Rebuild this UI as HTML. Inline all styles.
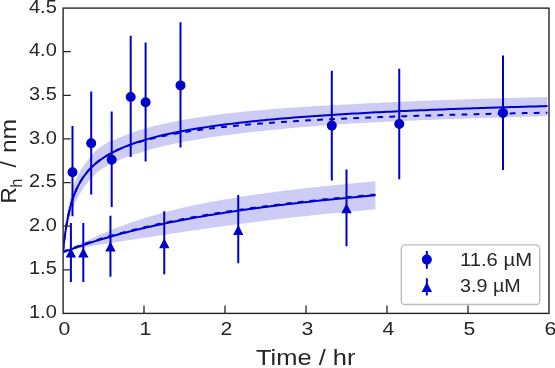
<!DOCTYPE html>
<html><head><meta charset="utf-8"><style>
html,body{margin:0;padding:0;background:#fff;}
body{width:555px;height:368px;overflow:hidden;}
svg{display:block;}
text{font-family:"Liberation Sans",sans-serif;fill:#262626;}
svg{will-change:transform;}
</style></head><body>
<svg width="555" height="368" viewBox="0 0 555 368">
<rect width="555" height="368" fill="#fff"/>
<defs><clipPath id="ax"><rect x="63" y="8" width="486" height="305"/></clipPath></defs>
<g clip-path="url(#ax)">
<path d="M63.00,252.00 L63.24,249.19 L63.48,246.48 L63.72,243.87 L63.97,241.35 L64.21,238.91 L64.45,236.55 L64.69,234.27 L64.93,232.05 L65.17,229.90 L65.41,227.81 L65.66,225.79 L65.90,223.81 L66.14,221.99 L66.38,220.28 L66.62,218.62 L66.86,217.00 L67.10,215.43 L67.34,213.90 L67.59,212.40 L67.83,210.95 L68.07,209.52 L68.31,208.14 L68.55,206.78 L68.79,205.45 L69.03,204.16 L69.28,202.89 L69.52,201.65 L69.76,200.44 L70.00,199.24 L70.76,196.16 L71.52,193.27 L72.28,190.58 L73.04,188.04 L73.80,185.65 L74.56,183.40 L75.32,181.26 L76.08,179.25 L76.84,177.57 L77.59,175.98 L78.35,174.47 L79.11,173.03 L79.87,171.66 L80.63,170.36 L81.39,169.11 L82.15,167.91 L82.91,166.77 L83.67,165.67 L84.43,164.61 L85.19,163.60 L85.95,162.62 L86.71,161.54 L87.47,160.48 L88.23,159.45 L88.99,158.44 L89.75,157.47 L90.51,156.52 L91.27,155.61 L92.03,154.73 L92.78,153.88 L93.54,153.05 L94.30,152.24 L95.06,151.44 L95.82,150.67 L96.58,149.91 L97.34,149.24 L98.10,148.67 L98.86,148.12 L99.62,147.58 L100.38,147.06 L101.14,146.55 L101.90,146.05 L102.66,145.56 L103.42,145.09 L104.18,144.62 L104.94,144.17 L105.70,143.72 L106.46,143.29 L107.22,142.87 L107.97,142.45 L108.73,142.10 L109.49,141.76 L110.25,141.43 L111.01,141.11 L111.77,140.80 L112.53,140.49 L113.29,140.19 L114.05,139.89 L114.81,139.61 L115.57,139.33 L116.33,139.02 L117.09,138.67 L117.85,138.34 L118.61,138.00 L119.37,137.68 L120.13,137.35 L120.89,137.04 L121.65,136.73 L122.41,136.42 L123.16,136.12 L123.92,135.82 L124.68,135.51 L125.44,135.20 L126.20,134.90 L126.96,134.60 L127.72,134.31 L128.48,134.02 L129.24,133.73 L130.00,133.45 L133.00,132.36 L136.00,131.33 L139.01,130.35 L142.01,129.42 L145.01,128.54 L148.01,127.70 L151.02,126.89 L154.02,126.12 L157.02,125.37 L160.02,124.66 L163.02,123.97 L166.03,123.30 L169.03,122.66 L172.03,122.04 L175.03,121.44 L178.03,120.87 L181.04,120.30 L184.04,119.76 L187.04,119.24 L190.04,118.73 L193.05,118.23 L196.05,117.75 L199.05,117.29 L202.05,116.83 L205.05,116.39 L208.06,115.96 L211.06,115.55 L214.06,115.14 L217.06,114.74 L220.06,114.36 L223.07,113.98 L226.07,113.62 L229.07,113.26 L232.07,112.91 L235.08,112.57 L238.08,112.24 L241.08,111.92 L244.08,111.62 L247.08,111.32 L250.09,111.03 L253.09,110.75 L256.09,110.48 L259.09,110.21 L262.09,109.95 L265.10,109.69 L268.10,109.44 L271.10,109.19 L274.10,108.95 L277.11,108.72 L280.11,108.49 L283.11,108.27 L286.11,108.05 L289.11,107.83 L292.12,107.62 L295.12,107.41 L298.12,107.21 L301.12,107.01 L304.13,106.82 L307.13,106.63 L310.13,106.44 L313.13,106.26 L316.13,106.08 L319.14,105.91 L322.14,105.74 L325.14,105.57 L328.14,105.40 L331.14,105.24 L334.15,105.08 L337.15,104.92 L340.15,104.77 L343.15,104.62 L346.16,104.47 L349.16,104.33 L352.16,104.17 L355.16,104.00 L358.16,103.84 L361.17,103.68 L364.17,103.52 L367.17,103.36 L370.17,103.21 L373.17,103.06 L376.18,102.91 L379.18,102.76 L382.18,102.62 L385.18,102.48 L388.19,102.33 L391.19,102.20 L394.19,102.06 L397.19,101.92 L400.19,101.79 L403.20,101.66 L406.20,101.53 L409.20,101.40 L412.20,101.28 L415.21,101.15 L418.21,101.03 L421.21,100.91 L424.21,100.79 L427.21,100.67 L430.22,100.56 L433.22,100.44 L436.22,100.33 L439.22,100.22 L442.22,100.11 L445.23,100.00 L448.23,99.89 L451.23,99.79 L454.23,99.68 L457.24,99.58 L460.24,99.48 L463.24,99.38 L466.24,99.28 L469.24,99.18 L472.25,99.08 L475.25,98.99 L478.25,98.89 L481.25,98.80 L484.25,98.70 L487.26,98.61 L490.26,98.52 L493.26,98.43 L496.26,98.34 L499.27,98.26 L502.27,98.17 L505.27,98.09 L508.27,98.00 L511.27,97.92 L514.28,97.84 L517.28,97.75 L520.28,97.67 L523.28,97.59 L526.28,97.52 L529.29,97.44 L532.29,97.36 L535.29,97.28 L538.29,97.21 L541.30,97.13 L544.30,97.06 L547.30,96.99 L547.30,116.19 L544.30,116.26 L541.30,116.34 L538.29,116.42 L535.29,116.50 L532.29,116.58 L529.29,116.66 L526.28,116.74 L523.28,116.82 L520.28,116.90 L517.28,116.99 L514.28,117.07 L511.27,117.16 L508.27,117.24 L505.27,117.33 L502.27,117.42 L499.27,117.51 L496.26,117.60 L493.26,117.69 L490.26,117.78 L487.26,117.87 L484.25,117.97 L481.25,118.06 L478.25,118.16 L475.25,118.26 L472.25,118.36 L469.24,118.46 L466.24,118.56 L463.24,118.66 L460.24,118.77 L457.24,118.87 L454.23,118.98 L451.23,119.08 L448.23,119.19 L445.23,119.30 L442.22,119.42 L439.22,119.53 L436.22,119.64 L433.22,119.76 L430.22,119.88 L427.21,120.00 L424.21,120.12 L421.21,120.24 L418.21,120.36 L415.21,120.49 L412.20,120.62 L409.20,120.74 L406.20,120.87 L403.20,121.01 L400.19,121.14 L397.19,121.28 L394.19,121.41 L391.19,121.55 L388.19,121.70 L385.18,121.84 L382.18,121.99 L379.18,122.13 L376.18,122.28 L373.17,122.44 L370.17,122.59 L367.17,122.75 L364.17,122.91 L361.17,123.07 L358.16,123.23 L355.16,123.40 L352.16,123.57 L349.16,123.75 L346.16,123.94 L343.15,124.15 L340.15,124.35 L337.15,124.56 L334.15,124.77 L331.14,124.98 L328.14,125.20 L325.14,125.42 L322.14,125.64 L319.14,125.87 L316.13,126.10 L313.13,126.33 L310.13,126.57 L307.13,126.81 L304.13,127.05 L301.12,127.30 L298.12,127.55 L295.12,127.81 L292.12,128.07 L289.11,128.34 L286.11,128.61 L283.11,128.88 L280.11,129.16 L277.11,129.44 L274.10,129.73 L271.10,130.03 L268.10,130.33 L265.10,130.63 L262.09,130.94 L259.09,131.26 L256.09,131.58 L253.09,131.91 L250.09,132.25 L247.08,132.59 L244.08,132.94 L241.08,133.30 L238.08,133.66 L235.08,134.03 L232.07,134.40 L229.07,134.79 L226.07,135.18 L223.07,135.59 L220.06,136.00 L217.06,136.42 L214.06,136.85 L211.06,137.29 L208.06,137.75 L205.05,138.21 L202.05,138.69 L199.05,139.18 L196.05,139.68 L193.05,140.20 L190.04,140.73 L187.04,141.27 L184.04,141.83 L181.04,142.41 L178.03,143.01 L175.03,143.62 L172.03,144.26 L169.03,144.91 L166.03,145.59 L163.02,146.29 L160.02,147.02 L157.02,147.77 L154.02,148.55 L151.02,149.36 L148.01,150.20 L145.01,151.08 L142.01,152.00 L139.01,152.93 L136.00,153.86 L133.00,154.83 L130.00,155.86 L129.24,156.13 L128.48,156.40 L127.72,156.68 L126.96,156.96 L126.20,157.24 L125.44,157.53 L124.68,157.82 L123.92,158.12 L123.16,158.44 L122.41,158.76 L121.65,159.08 L120.89,159.42 L120.13,159.75 L119.37,160.09 L118.61,160.44 L117.85,160.79 L117.09,161.15 L116.33,161.51 L115.57,161.85 L114.81,162.18 L114.05,162.52 L113.29,162.86 L112.53,163.20 L111.77,163.56 L111.01,163.92 L110.25,164.29 L109.49,164.67 L108.73,165.06 L107.97,165.45 L107.22,165.87 L106.46,166.29 L105.70,166.72 L104.94,167.17 L104.18,167.62 L103.42,168.09 L102.66,168.56 L101.90,169.05 L101.14,169.55 L100.38,170.06 L99.62,170.58 L98.86,171.12 L98.10,171.67 L97.34,172.24 L96.58,172.91 L95.82,173.67 L95.06,174.44 L94.30,175.24 L93.54,176.05 L92.78,176.88 L92.03,177.73 L91.27,178.61 L90.51,179.42 L89.75,180.22 L88.99,181.04 L88.23,181.89 L87.47,182.77 L86.71,183.68 L85.95,184.62 L85.19,185.60 L84.43,186.61 L83.67,187.67 L82.91,188.77 L82.15,189.91 L81.39,191.11 L80.63,192.36 L79.87,193.66 L79.11,195.03 L78.35,196.47 L77.59,197.98 L76.84,199.57 L76.08,201.25 L75.32,202.80 L74.56,204.44 L73.80,206.19 L73.04,208.07 L72.28,210.10 L71.52,212.29 L70.76,214.66 L70.00,217.24 L69.76,217.95 L69.52,218.68 L69.28,219.44 L69.03,220.23 L68.79,221.04 L68.55,221.88 L68.31,222.76 L68.07,223.66 L67.83,224.60 L67.59,225.57 L67.34,226.59 L67.10,227.64 L66.86,228.73 L66.62,229.86 L66.38,231.04 L66.14,232.26 L65.90,233.47 L65.66,234.64 L65.41,235.86 L65.17,237.14 L64.93,238.49 L64.69,239.90 L64.45,241.38 L64.21,242.93 L63.97,244.57 L63.72,246.28 L63.48,248.09 L63.24,249.99 L63.00,252.00 Z" fill="#0000cd" fill-opacity="0.2" stroke="none"/>
<path d="M63.00,252.38 L65.63,251.18 L68.25,249.91 L70.88,248.62 L73.50,247.32 L76.13,246.02 L78.75,244.72 L81.38,243.44 L84.00,242.17 L86.63,240.91 L89.25,239.67 L91.88,238.44 L94.50,237.23 L97.13,236.04 L99.75,234.87 L102.38,233.73 L105.00,232.60 L107.63,231.49 L110.25,230.40 L112.88,229.34 L115.50,228.29 L118.13,227.27 L120.75,226.26 L123.38,225.28 L126.01,224.32 L128.63,223.37 L131.26,222.45 L133.88,221.54 L136.51,220.66 L139.13,219.79 L141.76,218.95 L144.38,218.12 L147.01,217.30 L149.63,216.51 L152.26,215.73 L154.88,214.97 L157.51,214.22 L160.13,213.49 L162.76,212.78 L165.38,212.08 L168.01,211.40 L170.63,210.72 L173.26,210.07 L175.88,209.42 L178.51,208.79 L181.13,208.17 L183.76,207.57 L186.38,206.97 L189.01,206.39 L191.64,205.82 L194.26,205.26 L196.89,204.71 L199.51,204.17 L202.14,203.64 L204.76,203.12 L207.39,202.61 L210.01,202.10 L212.64,201.61 L215.26,201.13 L217.89,200.65 L220.51,200.18 L223.14,199.72 L225.76,199.27 L228.39,198.82 L231.01,198.39 L233.64,197.95 L236.26,197.53 L238.89,197.11 L241.51,196.70 L244.14,196.30 L246.76,195.90 L249.39,195.50 L252.02,195.11 L254.64,194.73 L257.27,194.36 L259.89,193.98 L262.52,193.62 L265.14,193.26 L267.77,192.90 L270.39,192.55 L273.02,192.20 L275.64,191.86 L278.27,191.52 L280.89,191.18 L283.52,190.85 L286.14,190.53 L288.77,190.21 L291.39,189.89 L294.02,189.57 L296.64,189.26 L299.27,188.96 L301.89,188.65 L304.52,188.35 L307.14,188.06 L309.77,187.76 L312.39,187.47 L315.02,187.19 L317.65,186.90 L320.27,186.62 L322.90,186.35 L325.52,186.07 L328.15,185.80 L330.77,185.53 L333.40,185.26 L336.02,185.00 L338.65,184.74 L341.27,184.48 L343.90,184.23 L346.52,183.97 L349.15,183.72 L351.77,183.47 L354.40,183.23 L357.02,182.99 L359.65,182.74 L362.27,182.51 L364.90,182.27 L367.52,182.04 L370.15,181.80 L372.77,181.57 L375.40,181.35 L375.40,209.32 L372.77,209.55 L370.15,209.77 L367.52,210.00 L364.90,210.23 L362.27,210.47 L359.65,210.70 L357.02,210.94 L354.40,211.18 L351.77,211.42 L349.15,211.67 L346.52,211.91 L343.90,212.16 L341.27,212.41 L338.65,212.67 L336.02,212.92 L333.40,213.18 L330.77,213.44 L328.15,213.70 L325.52,213.96 L322.90,214.23 L320.27,214.50 L317.65,214.77 L315.02,215.05 L312.39,215.32 L309.77,215.60 L307.14,215.88 L304.52,216.17 L301.89,216.45 L299.27,216.74 L296.64,217.03 L294.02,217.33 L291.39,217.62 L288.77,217.92 L286.14,218.22 L283.52,218.53 L280.89,218.83 L278.27,219.14 L275.64,219.45 L273.02,219.77 L270.39,220.09 L267.77,220.40 L265.14,220.73 L262.52,221.05 L259.89,221.38 L257.27,221.71 L254.64,222.04 L252.02,222.38 L249.39,222.72 L246.76,223.06 L244.14,223.40 L241.51,223.74 L238.89,224.09 L236.26,224.44 L233.64,224.80 L231.01,225.15 L228.39,225.51 L225.76,225.87 L223.14,226.23 L220.51,226.60 L217.89,226.96 L215.26,227.33 L212.64,227.70 L210.01,228.07 L207.39,228.45 L204.76,228.83 L202.14,229.20 L199.51,229.58 L196.89,229.97 L194.26,230.35 L191.64,230.73 L189.01,231.12 L186.38,231.51 L183.76,231.90 L181.13,232.29 L178.51,232.68 L175.88,233.07 L173.26,233.46 L170.63,233.86 L168.01,234.25 L165.38,234.65 L162.76,235.04 L160.13,235.44 L157.51,235.83 L154.88,236.23 L152.26,236.63 L149.63,237.02 L147.01,237.42 L144.38,237.82 L141.76,238.22 L139.13,238.61 L136.51,239.01 L133.88,239.41 L131.26,239.81 L128.63,240.21 L126.01,240.61 L123.38,241.01 L120.75,241.41 L118.13,241.81 L115.50,242.22 L112.88,242.63 L110.25,243.03 L107.63,243.45 L105.00,243.86 L102.38,244.28 L99.75,244.71 L97.13,245.14 L94.50,245.58 L91.88,246.03 L89.25,246.49 L86.63,246.96 L84.00,247.45 L81.38,247.95 L78.75,248.48 L76.13,249.02 L73.50,249.60 L70.88,250.20 L68.25,250.86 L65.63,251.57 L63.00,252.38 Z" fill="#0000cd" fill-opacity="0.2" stroke="none"/>
<path d="M63.00,252.00 L63.16,250.37 L63.32,248.79 L63.49,247.26 L63.65,245.76 L63.81,244.31 L63.97,242.90 L64.13,241.53 L64.30,240.19 L64.46,238.89 L64.62,237.62 L64.78,236.38 L64.94,235.17 L65.11,234.00 L65.27,232.85 L65.43,231.73 L65.59,230.63 L65.75,229.56 L65.92,228.52 L66.08,227.50 L66.24,226.50 L66.40,225.52 L66.56,224.57 L66.73,223.63 L66.89,222.72 L67.05,221.82 L67.67,218.57 L68.29,215.56 L68.90,212.76 L69.52,210.15 L70.14,207.71 L70.76,205.42 L71.37,203.27 L71.99,201.24 L72.61,199.32 L73.23,197.51 L73.85,195.79 L74.46,194.16 L75.08,192.60 L75.70,191.12 L76.32,189.71 L76.93,188.36 L77.55,187.07 L78.17,185.83 L78.79,184.64 L79.41,183.50 L80.02,182.40 L80.64,181.34 L81.26,180.32 L81.88,179.34 L82.49,178.39 L83.11,177.47 L83.73,176.59 L84.35,175.73 L84.97,174.89 L85.58,174.09 L86.20,173.30 L86.82,172.54 L87.44,171.81 L88.06,171.09 L88.67,170.39 L89.29,169.71 L89.91,169.05 L90.53,168.40 L91.14,167.77 L91.76,167.16 L92.38,166.56 L93.00,165.98 L93.62,165.41 L94.23,164.85 L94.85,164.30 L95.47,163.77 L96.09,163.25 L96.70,162.74 L97.32,162.24 L97.94,161.75 L98.56,161.27 L99.18,160.80 L99.79,160.33 L100.41,159.88 L101.03,159.44 L101.65,159.00 L102.26,158.57 L102.88,158.15 L103.50,157.74 L107.23,155.39 L110.96,153.26 L114.69,151.31 L118.42,149.52 L122.16,147.87 L125.89,146.33 L129.62,144.89 L133.35,143.54 L137.08,142.27 L140.81,141.08 L144.54,139.95 L148.27,138.88 L152.00,137.86 L155.74,136.89 L159.47,135.97 L163.20,135.09 L166.93,134.25 L170.66,133.44 L174.39,132.66 L178.12,131.92 L181.85,131.20 L185.58,130.52 L189.32,129.85 L193.05,129.21 L196.78,128.60 L200.51,128.00 L204.24,127.42 L207.97,126.87 L211.70,126.33 L215.43,125.80 L219.16,125.30 L222.89,124.81 L226.63,124.33 L230.36,123.87 L234.09,123.42 L237.82,122.98 L241.55,122.55 L245.28,122.14 L249.01,121.74 L252.74,121.34 L256.47,120.96 L260.21,120.59 L263.94,120.23 L267.67,119.87 L271.40,119.53 L275.13,119.19 L278.86,118.86 L282.59,118.54 L286.32,118.23 L290.05,117.92 L293.79,117.62 L297.52,117.32 L301.25,117.04 L304.98,116.76 L308.71,116.48 L312.44,116.21 L316.17,115.95 L319.90,115.69 L323.63,115.44 L327.37,115.19 L331.10,114.95 L334.83,114.71 L338.56,114.48 L342.29,114.25 L346.02,114.02 L349.75,113.80 L353.48,113.59 L357.21,113.38 L360.95,113.17 L364.68,112.96 L368.41,112.76 L372.14,112.57 L375.87,112.37 L379.60,112.18 L383.33,112.00 L387.06,111.81 L390.79,111.63 L394.53,111.45 L398.26,111.28 L401.99,111.11 L405.72,110.94 L409.45,110.77 L413.18,110.61 L416.91,110.45 L420.64,110.29 L424.37,110.13 L428.11,109.98 L431.84,109.83 L435.57,109.68 L439.30,109.54 L443.03,109.39 L446.76,109.25 L450.49,109.11 L454.22,108.97 L457.95,108.84 L461.68,108.70 L465.42,108.57 L469.15,108.44 L472.88,108.31 L476.61,108.19 L480.34,108.06 L484.07,107.94 L487.80,107.82 L491.53,107.70 L495.26,107.58 L499.00,107.46 L502.73,107.35 L506.46,107.24 L510.19,107.12 L513.92,107.01 L517.65,106.91 L521.38,106.80 L525.11,106.69 L528.84,106.59 L532.58,106.48 L536.31,106.38 L540.04,106.28 L543.77,106.18 L547.50,106.08" fill="none" stroke="#0000cd" stroke-width="2"/>
<path d="M63.00,252.00 L63.16,250.38 L63.32,248.80 L63.49,247.27 L63.65,245.79 L63.81,244.34 L63.97,242.93 L64.13,241.57 L64.30,240.23 L64.46,238.93 L64.62,237.67 L64.78,236.43 L64.94,235.23 L65.11,234.05 L65.27,232.91 L65.43,231.79 L65.59,230.70 L65.75,229.63 L65.92,228.59 L66.08,227.57 L66.24,226.57 L66.40,225.60 L66.56,224.64 L66.73,223.71 L66.89,222.79 L67.05,221.90 L67.67,218.65 L68.29,215.64 L68.90,212.83 L69.52,210.22 L70.14,207.77 L70.76,205.48 L71.37,203.32 L71.99,201.28 L72.61,199.36 L73.23,197.54 L73.85,195.81 L74.46,194.17 L75.08,192.60 L75.70,191.12 L76.32,189.69 L76.93,188.33 L77.55,187.03 L78.17,185.79 L78.79,184.59 L79.41,183.44 L80.02,182.33 L80.64,181.27 L81.26,180.24 L81.88,179.25 L82.49,178.29 L83.11,177.37 L83.73,176.48 L84.35,175.61 L84.97,174.77 L85.58,173.96 L86.20,173.17 L86.82,172.41 L87.44,171.67 L88.06,170.94 L88.67,170.24 L89.29,169.56 L89.91,168.89 L90.53,168.25 L91.14,167.62 L91.76,167.00 L92.38,166.40 L93.00,165.81 L93.62,165.24 L94.23,164.68 L94.85,164.14 L95.47,163.60 L96.09,163.08 L96.70,162.57 L97.32,162.07 L97.94,161.58 L98.56,161.11 L99.18,160.64 L99.79,160.18 L100.41,159.73 L101.03,159.29 L101.65,158.85 L102.26,158.43 L102.88,158.01 L103.50,157.60 L107.23,155.28 L110.96,153.19 L114.69,151.28 L118.42,149.54 L122.16,147.94 L125.89,146.46 L129.62,145.09 L133.35,143.81 L137.08,142.62 L140.81,141.50 L144.54,140.45 L148.27,139.45 L152.00,138.52 L155.74,137.63 L159.47,136.79 L163.20,136.00 L166.93,135.24 L170.66,134.52 L174.39,133.83 L178.12,133.17 L181.85,132.54 L185.58,131.94 L189.32,131.36 L193.05,130.81 L196.78,130.28 L200.51,129.76 L204.24,129.27 L207.97,128.80 L211.70,128.34 L215.43,127.90 L219.16,127.47 L222.89,127.06 L226.63,126.66 L230.36,126.28 L234.09,125.91 L237.82,125.55 L241.55,125.20 L245.28,124.86 L249.01,124.53 L252.74,124.21 L256.47,123.91 L260.21,123.61 L263.94,123.31 L267.67,123.03 L271.40,122.75 L275.13,122.49 L278.86,122.22 L282.59,121.97 L286.32,121.72 L290.05,121.48 L293.79,121.25 L297.52,121.02 L301.25,120.79 L304.98,120.57 L308.71,120.36 L312.44,120.15 L316.17,119.95 L319.90,119.75 L323.63,119.55 L327.37,119.36 L331.10,119.18 L334.83,119.00 L338.56,118.82 L342.29,118.65 L346.02,118.48 L349.75,118.31 L353.48,118.15 L357.21,117.99 L360.95,117.83 L364.68,117.68 L368.41,117.53 L372.14,117.38 L375.87,117.23 L379.60,117.09 L383.33,116.95 L387.06,116.82 L390.79,116.68 L394.53,116.55 L398.26,116.42 L401.99,116.30 L405.72,116.17 L409.45,116.05 L413.18,115.93 L416.91,115.81 L420.64,115.70 L424.37,115.58 L428.11,115.47 L431.84,115.36 L435.57,115.25 L439.30,115.15 L443.03,115.04 L446.76,114.94 L450.49,114.84 L454.22,114.74 L457.95,114.64 L461.68,114.55 L465.42,114.45 L469.15,114.36 L472.88,114.27 L476.61,114.18 L480.34,114.09 L484.07,114.00 L487.80,113.91 L491.53,113.83 L495.26,113.74 L499.00,113.66 L502.73,113.58 L506.46,113.50 L510.19,113.42 L513.92,113.34 L517.65,113.26 L521.38,113.19 L525.11,113.11 L528.84,113.04 L532.58,112.97 L536.31,112.90 L540.04,112.82 L543.77,112.75 L547.50,112.69" fill="none" stroke="#0000cd" stroke-width="2" stroke-dasharray="5.8 6.24" stroke-dashoffset="-0.35"/>
<path d="M63.00,252.38 L65.63,251.37 L68.25,250.38 L70.88,249.41 L73.50,248.46 L76.13,247.52 L78.75,246.60 L81.38,245.70 L84.00,244.81 L86.63,243.94 L89.25,243.08 L91.88,242.24 L94.50,241.41 L97.13,240.59 L99.75,239.79 L102.38,239.00 L105.00,238.23 L107.63,237.47 L110.25,236.72 L112.88,235.98 L115.50,235.25 L118.13,234.54 L120.75,233.84 L123.38,233.14 L126.01,232.46 L128.63,231.79 L131.26,231.13 L133.88,230.48 L136.51,229.84 L139.13,229.20 L141.76,228.58 L144.38,227.97 L147.01,227.36 L149.63,226.77 L152.26,226.18 L154.88,225.60 L157.51,225.03 L160.13,224.47 L162.76,223.91 L165.38,223.36 L168.01,222.82 L170.63,222.29 L173.26,221.76 L175.88,221.25 L178.51,220.73 L181.13,220.23 L183.76,219.73 L186.38,219.24 L189.01,218.76 L191.64,218.28 L194.26,217.80 L196.89,217.34 L199.51,216.88 L202.14,216.42 L204.76,215.97 L207.39,215.53 L210.01,215.09 L212.64,214.66 L215.26,214.23 L217.89,213.81 L220.51,213.39 L223.14,212.98 L225.76,212.57 L228.39,212.17 L231.01,211.77 L233.64,211.38 L236.26,210.99 L238.89,210.60 L241.51,210.22 L244.14,209.85 L246.76,209.48 L249.39,209.11 L252.02,208.75 L254.64,208.39 L257.27,208.03 L259.89,207.68 L262.52,207.33 L265.14,206.99 L267.77,206.65 L270.39,206.32 L273.02,205.98 L275.64,205.66 L278.27,205.33 L280.89,205.01 L283.52,204.69 L286.14,204.38 L288.77,204.06 L291.39,203.76 L294.02,203.45 L296.64,203.15 L299.27,202.85 L301.89,202.55 L304.52,202.26 L307.14,201.97 L309.77,201.68 L312.39,201.40 L315.02,201.12 L317.65,200.84 L320.27,200.56 L322.90,200.29 L325.52,200.02 L328.15,199.75 L330.77,199.48 L333.40,199.22 L336.02,198.96 L338.65,198.70 L341.27,198.45 L343.90,198.19 L346.52,197.94 L349.15,197.70 L351.77,197.45 L354.40,197.21 L357.02,196.96 L359.65,196.72 L362.27,196.49 L364.90,196.25 L367.52,196.02 L370.15,195.79 L372.77,195.56 L375.40,195.33" fill="none" stroke="#0000cd" stroke-width="2"/>
<path d="M63.00,251.68 L65.63,250.67 L68.25,249.68 L70.88,248.71 L73.50,247.76 L76.13,246.82 L78.75,245.90 L81.38,245.00 L84.00,244.11 L86.63,243.24 L89.25,242.38 L91.88,241.54 L94.50,240.71 L97.13,239.89 L99.75,239.09 L102.38,238.30 L105.00,237.53 L107.63,236.77 L110.25,236.02 L112.88,235.28 L115.50,234.55 L118.13,233.84 L120.75,233.14 L123.38,232.44 L126.01,231.76 L128.63,231.09 L131.26,230.43 L133.88,229.78 L136.51,229.14 L139.13,228.50 L141.76,227.88 L144.38,227.27 L147.01,226.66 L149.63,226.07 L152.26,225.48 L154.88,224.90 L157.51,224.33 L160.13,223.77 L162.76,223.21 L165.38,222.66 L168.01,222.12 L170.63,221.59 L173.26,221.06 L175.88,220.55 L178.51,220.03 L181.13,219.53 L183.76,219.03 L186.38,218.54 L189.01,218.06 L191.64,217.58 L194.26,217.10 L196.89,216.64 L199.51,216.18 L202.14,215.72 L204.76,215.27 L207.39,214.83 L210.01,214.39 L212.64,213.96 L215.26,213.53 L217.89,213.11 L220.51,212.69 L223.14,212.28 L225.76,211.87 L228.39,211.47 L231.01,211.07 L233.64,210.68 L236.26,210.29 L238.89,209.90 L241.51,209.52 L244.14,209.15 L246.76,208.78 L249.39,208.41 L252.02,208.05 L254.64,207.69 L257.27,207.33 L259.89,206.98 L262.52,206.63 L265.14,206.29 L267.77,205.95 L270.39,205.62 L273.02,205.28 L275.64,204.96 L278.27,204.63 L280.89,204.31 L283.52,203.99 L286.14,203.68 L288.77,203.36 L291.39,203.06 L294.02,202.75 L296.64,202.45 L299.27,202.15 L301.89,201.85 L304.52,201.56 L307.14,201.27 L309.77,200.98 L312.39,200.70 L315.02,200.42 L317.65,200.14 L320.27,199.86 L322.90,199.59 L325.52,199.32 L328.15,199.05 L330.77,198.78 L333.40,198.52 L336.02,198.26 L338.65,198.00 L341.27,197.75 L343.90,197.49 L346.52,197.24 L349.15,197.00 L351.77,196.75 L354.40,196.51 L357.02,196.26 L359.65,196.02 L362.27,195.79 L364.90,195.55 L367.52,195.32 L370.15,195.09 L372.77,194.86 L375.40,194.63" fill="none" stroke="#0000cd" stroke-width="2" stroke-dasharray="5.8 6.25" stroke-dashoffset="0.44"/>
<path d="M72.5,126 V216.3 M91.2,91.4 V194.5 M111.7,111.5 V207 M130.7,35.8 V157 M145.6,42.4 V161.4 M180.5,22.3 V147.5 M331.8,70.75 V180.5 M399.25,68.75 V179.25 M503,55.5 V170 M70.9,222.9 V282 M83.3,222.9 V282 M110.45,215.75 V276.75 M164.25,211.25 V274.25 M238.25,195 V263.25 M346.5,169.5 V246.25" stroke="#0000cd" stroke-width="2" fill="none"/>
<circle cx="72.5" cy="172.2" r="4.4" fill="#0000cd" stroke="#0000cd" stroke-width="1.2"/>
<circle cx="91.2" cy="143.2" r="4.4" fill="#0000cd" stroke="#0000cd" stroke-width="1.2"/>
<circle cx="111.7" cy="159.7" r="4.4" fill="#0000cd" stroke="#0000cd" stroke-width="1.2"/>
<circle cx="130.7" cy="96.95" r="4.4" fill="#0000cd" stroke="#0000cd" stroke-width="1.2"/>
<circle cx="145.6" cy="102.3" r="4.4" fill="#0000cd" stroke="#0000cd" stroke-width="1.2"/>
<circle cx="180.5" cy="85.4" r="4.4" fill="#0000cd" stroke="#0000cd" stroke-width="1.2"/>
<circle cx="331.8" cy="125.6" r="4.4" fill="#0000cd" stroke="#0000cd" stroke-width="1.2"/>
<circle cx="399.25" cy="124" r="4.4" fill="#0000cd" stroke="#0000cd" stroke-width="1.2"/>
<circle cx="503" cy="112.9" r="4.4" fill="#0000cd" stroke="#0000cd" stroke-width="1.2"/>
<path d="M70.90,249.00 L66.70,257.00 L75.10,257.00 Z" fill="#0000cd" stroke="#0000cd" stroke-width="1.2" stroke-linejoin="miter"/>
<path d="M83.30,249.00 L79.10,257.00 L87.50,257.00 Z" fill="#0000cd" stroke="#0000cd" stroke-width="1.2" stroke-linejoin="miter"/>
<path d="M110.45,242.90 L106.25,250.90 L114.65,250.90 Z" fill="#0000cd" stroke="#0000cd" stroke-width="1.2" stroke-linejoin="miter"/>
<path d="M164.25,239.60 L160.05,247.60 L168.45,247.60 Z" fill="#0000cd" stroke="#0000cd" stroke-width="1.2" stroke-linejoin="miter"/>
<path d="M238.25,226.40 L234.05,234.40 L242.45,234.40 Z" fill="#0000cd" stroke="#0000cd" stroke-width="1.2" stroke-linejoin="miter"/>
<path d="M346.50,204.60 L342.30,212.60 L350.70,212.60 Z" fill="#0000cd" stroke="#0000cd" stroke-width="1.2" stroke-linejoin="miter"/>
</g>
<path d="M144.00,313.3 V305.5 M225.00,313.3 V305.5 M306.00,313.3 V305.5 M387.00,313.3 V305.5 M468.00,313.3 V305.5 M63,269.79 H70.8 M63,226.17 H70.8 M63,182.56 H70.8 M63,138.94 H70.8 M63,95.33 H70.8 M63,51.71 H70.8" stroke="#262626" stroke-width="1.3" fill="none"/>
<rect x="63.1" y="8.1" width="485.9" height="305.3" fill="none" stroke="#262626" stroke-width="1.4"/>
<g font-size="18">
<text x="56.8" y="317.80" text-anchor="end" textLength="27.8" lengthAdjust="spacingAndGlyphs">1.0</text>
<text x="56.8" y="274.23" text-anchor="end" textLength="27.8" lengthAdjust="spacingAndGlyphs">1.5</text>
<text x="56.8" y="230.66" text-anchor="end" textLength="27.8" lengthAdjust="spacingAndGlyphs">2.0</text>
<text x="56.8" y="187.09" text-anchor="end" textLength="27.8" lengthAdjust="spacingAndGlyphs">2.5</text>
<text x="56.8" y="143.51" text-anchor="end" textLength="27.8" lengthAdjust="spacingAndGlyphs">3.0</text>
<text x="56.8" y="99.94" text-anchor="end" textLength="27.8" lengthAdjust="spacingAndGlyphs">3.5</text>
<text x="56.8" y="56.37" text-anchor="end" textLength="27.8" lengthAdjust="spacingAndGlyphs">4.0</text>
<text x="56.8" y="12.80" text-anchor="end" textLength="27.8" lengthAdjust="spacingAndGlyphs">4.5</text>
<text x="58.50" y="335" textLength="11.8" lengthAdjust="spacingAndGlyphs">0</text>
<text x="139.50" y="335" textLength="11.8" lengthAdjust="spacingAndGlyphs">1</text>
<text x="220.50" y="335" textLength="11.8" lengthAdjust="spacingAndGlyphs">2</text>
<text x="301.50" y="335" textLength="11.8" lengthAdjust="spacingAndGlyphs">3</text>
<text x="382.50" y="335" textLength="11.8" lengthAdjust="spacingAndGlyphs">4</text>
<text x="463.50" y="335" textLength="11.8" lengthAdjust="spacingAndGlyphs">5</text>
<text x="544.50" y="335" textLength="11.8" lengthAdjust="spacingAndGlyphs">6</text>
</g>
<!-- legend -->
<rect x="401.3" y="244.9" width="138.4" height="59.6" rx="3.6" ry="3.6" fill="#fff" fill-opacity="0.85" stroke="#bbbbbb" stroke-width="1.3"/>
<path d="M426.85,250.9 V268.8 M426.85,278.2 V295.4" stroke="#0000cd" stroke-width="2"/>
<circle cx="426.85" cy="259.6" r="4.4" fill="#0000cd" stroke="#0000cd" stroke-width="1.2"/>
<path d="M426.85,283.50 L422.65,291.50 L431.05,291.50 Z" fill="#0000cd" stroke="#0000cd" stroke-width="1.2"/>
<g font-size="18">
<text x="460" y="266" textLength="72" lengthAdjust="spacingAndGlyphs">11.6 µM</text>
<text x="460" y="292" textLength="60.7" lengthAdjust="spacingAndGlyphs">3.9 µM</text>
</g>
<text x="256" y="365.1" font-size="22.5" textLength="99.5" lengthAdjust="spacingAndGlyphs">Time / hr</text>
<g transform="translate(15.7,201.4) rotate(-90)" font-size="22.5">
<text x="-2" y="0">R</text>
<text x="13.6" y="6" font-size="16.5">h</text>
<text x="34" y="0">/</text>
<text x="48.3" y="0" textLength="34.2" lengthAdjust="spacingAndGlyphs">nm</text>
</g>
</svg>
</body></html>
